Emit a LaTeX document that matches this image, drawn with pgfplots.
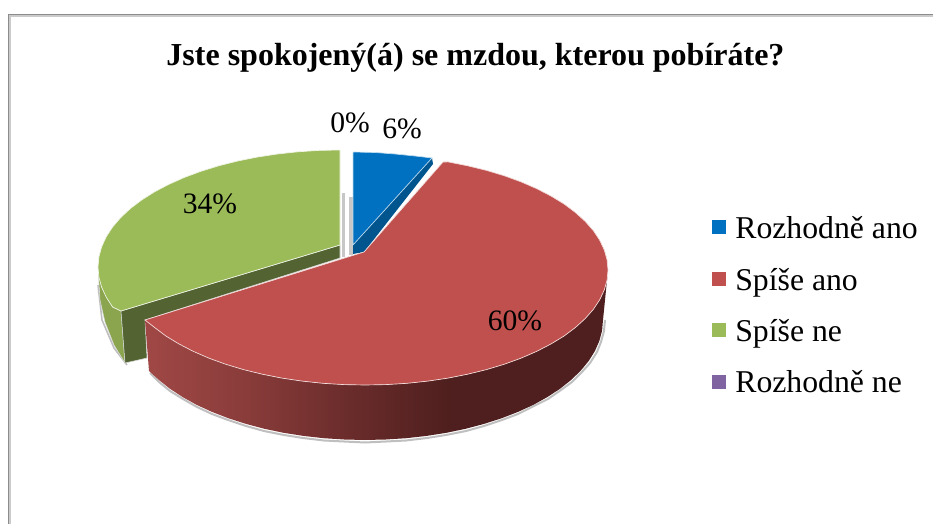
\documentclass[border=0pt]{standalone}
\usepackage{pgfplots}
\pgfplotsset{compat=1.18}
\usepackage{fontspec}
\setmainfont{Liberation Serif}
\definecolor{cBlue}{HTML}{0070C0}
\definecolor{cBlueD}{HTML}{00558F}
\definecolor{cRed}{HTML}{C0504D}
\definecolor{cGreen}{HTML}{9BBB59}
\definecolor{cGreenD}{HTML}{536432}
\definecolor{cGreenW}{HTML}{8BA54F}
\definecolor{cPurple}{HTML}{8064A2}
\definecolor{cFrame}{HTML}{8C8C8C}
\definecolor{wa}{HTML}{A04846}
\definecolor{wb}{HTML}{893C3A}
\definecolor{wc}{HTML}{6A2C2B}
\definecolor{wd}{HTML}{4E1F1E}
\pgfdeclarehorizontalshading{redwall}{100bp}{color(0bp)=(wa);color(25bp)=(wa);color(36bp)=(wb);color(47bp)=(wc);color(58bp)=(wd);color(75bp)=(wd);color(100bp)=(wd)}
\begin{document}
\begin{tikzpicture}
\begin{axis}[
  scale only axis, width=699.75pt, height=393pt,
  xmin=0, xmax=933, ymin=0, ymax=524, y dir=reverse,
  axis line style={draw=none}, ticks=none,
  legend style={at={(axis cs:712,214)}, anchor=north west, draw=none, fill=none,
    font=\fontsize{23.8pt}{27pt}\selectfont, row sep=16.5pt, inner sep=0pt, outer sep=0pt,
    /tikz/column sep=5pt},
  legend cell align=left,
  legend image code/.code={\path[#1] (0pt,-4.2pt) rectangle (10.5pt,6.3pt);},
]
\addlegendimage{fill=cBlue, draw=none}
\addlegendimage{fill=cRed, draw=none}
\addlegendimage{fill=cGreen, draw=none}
\addlegendimage{fill=cPurple, draw=none}
% frame
\addplot[forget plot, color=cFrame!45, line width=1.1pt] coordinates {(10,524)(10,16)(933,16)};
\addplot[forget plot, color=cFrame, line width=1.1pt] coordinates {(8.5,524)(8.5,14.3)(933,14.3)};
% grey shadows beside the gap
\addplot[forget plot, fill=black!22, draw=none] coordinates {(342,193)(345,193)(345,257)(342,257)};
\addplot[forget plot, fill=black!22, draw=none] coordinates {(349,197)(353,197)(353,255)(349,255)};
% soft shadow below
\addplot[forget plot, color=black!25, line width=1.5pt] coordinates {(605,320)(604,331)(601,342)(597,352)(590,363)(582,372)(572,382)(561,390)(548,399)(534,406)(518,414)(502,420)(484,426)(466,431)(446,435)(427,438)(406,440.5)(386,441.5)(365,442.5)(344,441.5)(324,440.5)(303,438)(284,435)(264,431)(246,426)(228,420)(212,414)(197,407)(183,399)(170,391)(159,382)(150,373)};
\addplot[forget plot, color=black!25, line width=1.2pt] coordinates {(98,285)(102,320)(114,348)(127,365)};
% green wall and cut
\addplot[forget plot, fill=cGreenW, draw=white!85!black, line width=.4pt] coordinates {(98,267)(101.7,287.3)(112.6,307)(121,311)(125,363)(114,345)(105,322)(100,300)(98,267)};
\addplot[forget plot, fill=cGreenD, draw=white!85!black, line width=.4pt] coordinates {(121,311)(340,245)(340,258)(145,320)(147,358)(125,363)(121,311)};
% green top
\addplot[forget plot, fill=cGreen, draw=white!85!cGreen, line width=.5pt] coordinates {(340,150)(318.9,150.4)(297.9,151.8)(277.4,154)(257.2,157.1)(237.7,161)(219,165.7)(201.2,171.2)(184.4,177.4)(168.9,184.3)(154.6,191.8)(141.8,199.9)(130.4,208.5)(120.7,217.6)(112.6,227)(106.3,236.7)(101.7,246.7)(98.9,256.8)(98,267)(98.9,277.2)(101.7,287.3)(106.3,297.3)(112.6,307)(121,311)(340,245)(340,150)};
% blue wall and top
\addplot[forget plot, fill=cBlueD, draw=none] coordinates {(432,158)(353,245)(353,254)(364,252)(433,164)(432,158)};
\addplot[forget plot, fill=cBlue, draw=white!75!cBlue, line width=.5pt] coordinates {(353,152)(375,152.5)(395,154)(415,156)(432,158)(353,245)(353,152)};
% red wall
\addplot[forget plot, shade, shading=redwall, draw=none] coordinates {(608,270)(607.1,280)(604.3,290)(599.7,299.8)(593.4,309.3)(585.2,318.6)(575.4,327.5)(564.1,336)(551.1,343.9)(536.8,351.3)(521.2,358.1)(504.4,364.2)(486.5,369.6)(467.7,374.2)(448.1,378.1)(427.9,381.1)(407.2,383.3)(386.2,384.6)(365,385)(343.8,384.6)(322.8,383.3)(302.1,381.1)(281.9,378.1)(262.3,374.2)(243.5,369.6)(225.6,364.2)(208.8,358.1)(193.2,351.3)(178.9,343.9)(165.9,336)(154.6,327.5)(145,320)(149,371)(158.9,380)(170,388.8)(182.7,397.1)(196.7,404.9)(212,411.9)(228.5,418.3)(246,423.9)(264.4,428.8)(283.6,432.8)(303.4,435.9)(323.7,438.2)(344.2,439.5)(365,440)(385.8,439.5)(406.3,438.2)(426.6,435.9)(446.4,432.8)(465.6,428.8)(484,423.9)(501.5,418.3)(518,411.9)(533.3,404.9)(547.3,397.1)(560,388.8)(571.1,380)(580.7,370.7)(588.7,361)(594.9,351.1)(599.4,340.8)(602.1,330.5)(603,320)(608,270)};
% red top
\addplot[forget plot, fill=cRed, draw=white!80!cRed, line width=.5pt] coordinates {(364,252)(443,162)(448.1,161.9)(467.7,165.8)(486.5,170.4)(504.4,175.8)(521.2,181.9)(536.8,188.7)(551.1,196.1)(564.1,204)(575.4,212.5)(585.2,221.4)(593.4,230.7)(599.7,240.2)(604.3,250)(607.1,260)(608,270)(607.1,280)(604.3,290)(599.7,299.8)(593.4,309.3)(585.2,318.6)(575.4,327.5)(564.1,336)(551.1,343.9)(536.8,351.3)(521.2,358.1)(504.4,364.2)(486.5,369.6)(467.7,374.2)(448.1,378.1)(427.9,381.1)(407.2,383.3)(386.2,384.6)(365,385)(343.8,384.6)(322.8,383.3)(302.1,381.1)(281.9,378.1)(262.3,374.2)(243.5,369.6)(225.6,364.2)(208.8,358.1)(193.2,351.3)(178.9,343.9)(165.9,336)(154.6,327.5)(145,320)(364,252)};
% texts
\node[anchor=base, font=\bfseries\fontsize{24pt}{28pt}\selectfont, inner sep=0pt] at (axis cs:475.5,66) {Jste spokojený(á) se mzdou, kterou pobíráte?};
\node[anchor=base, font=\fontsize{22.2pt}{26pt}\selectfont, inner sep=0pt] at (axis cs:350,133) {0\%};
\node[anchor=base, font=\fontsize{22.2pt}{26pt}\selectfont, inner sep=0pt] at (axis cs:402,139) {6\%};
\node[anchor=base, font=\fontsize{22.2pt}{26pt}\selectfont, inner sep=0pt] at (axis cs:210,214) {34\%};
\node[anchor=base, font=\fontsize{22.2pt}{26pt}\selectfont, inner sep=0pt] at (axis cs:515,330) {60\%};
\legend{Rozhodně ano, Spíše ano, Spíše ne, Rozhodně ne}
\end{axis}
\end{tikzpicture}
\end{document}
